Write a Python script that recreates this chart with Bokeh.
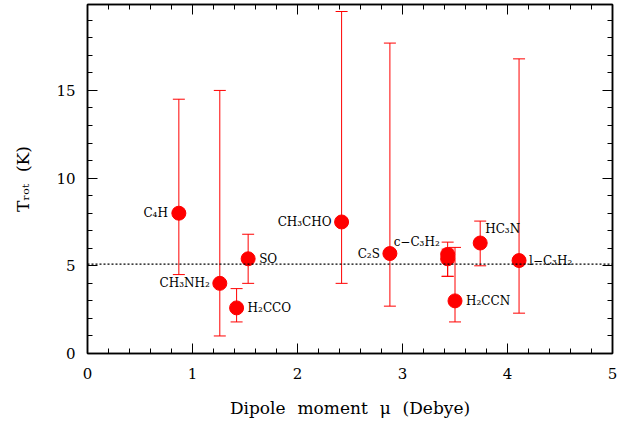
from bokeh.plotting import figure
from bokeh.models import (ColumnDataSource, Whisker, TeeHead, Span, LinearAxis,
                          FixedTicker, Range1d)
from bokeh.core.properties import value
from bokeh.embed import file_html
from bokeh.resources import INLINE

# Rotational temperature versus dipole moment
molecule = ["C₄H", "CH₃NH₂", "SO", "H₂CCO", "CH₃CHO", "C₂S",
            "c−C₃H₂", "", "H₂CCN", "HC₃N", "l−C₃H₂"]
dipole = [0.87, 1.26, 1.53, 1.42, 2.42, 2.88, 3.43, 3.43, 3.50, 3.74, 4.11]
trot = [8.0, 4.0, 5.4, 2.6, 7.5, 5.7, 5.65, 5.4, 3.0, 6.3, 5.3]
trot_lo = [4.5, 1.0, 4.0, 1.8, 4.0, 2.7, 4.4, 4.4, 1.8, 5.0, 2.3]
trot_hi = [14.5, 15.0, 6.8, 3.7, 19.5, 17.7, 6.35, 5.95, 6.05, 7.55, 16.8]
mean_trot = 5.1

x_ticks = [0, 1, 2, 3, 4, 5]
y_ticks = [0, 5, 10, 15]

# label placement (screen pixel offsets from each point)
label_align = ["right", "right", "left", "left", "right", "right",
               "left", "left", "left", "left", "left"]
label_dx = [-11, -10, 11, 11, -10, -10, -54, 0, 11, 5, 10]
label_dy = [0, 0, 0, 0, 0, 0, -12, 0, 0, -14, 0]

FONT = "DejaVu Serif"
RED = "#ff0000"
GAP = "\u2002\u2009"

src = ColumnDataSource(dict(x=dipole, y=trot, lo=trot_lo, hi=trot_hi,
                            name=molecule, align=label_align,
                            dx=label_dx, dy=label_dy))

p = figure(width=642, height=426, output_backend="svg", toolbar_location=None,
           x_range=Range1d(0, 5), y_range=Range1d(0, 19.9),
           min_border_left=87, min_border_right=30, min_border_top=4,
           min_border_bottom=73)
p.background_fill_color = "white"
p.border_fill_color = "white"
p.outline_line_color = "black"
p.outline_line_width = 1.5
p.xgrid.visible = False
p.ygrid.visible = False

p.add_layout(Span(location=mean_trot, dimension="width", line_color="black",
                  line_width=1.2, line_dash="2 2"))

head_kw = dict(size=12, line_color=RED, line_width=1)
p.add_layout(Whisker(source=src, base="x", lower="lo", upper="hi",
                     dimension="height", line_color=RED, line_width=1,
                     lower_head=TeeHead(**head_kw), upper_head=TeeHead(**head_kw)))

p.scatter("x", "y", source=src, size=14, fill_color=RED, line_color=RED)

p.text("x", "y", text="name", source=src, x_offset="dx", y_offset="dy",
       text_align="align", text_baseline="middle",
       text_font=value(FONT), text_font_size="12px", text_color="black")


def style_axis(ax, ticks, minor, labels=True):
    ax.ticker = FixedTicker(ticks=ticks, minor_ticks=minor)
    ax.axis_line_color = "black"
    ax.axis_line_width = 1.5
    ax.major_tick_line_color = "black"
    ax.minor_tick_line_color = "black"
    ax.major_tick_in = 10
    ax.major_tick_out = 0
    ax.minor_tick_in = 5
    ax.minor_tick_out = 0
    ax.major_tick_line_width = 1
    ax.minor_tick_line_width = 1
    if labels:
        ax.major_label_text_font = FONT
        ax.major_label_text_font_size = "15px"
        ax.major_label_text_color = "black"
        ax.major_label_standoff = 14
        ax.axis_label_text_font = FONT
        ax.axis_label_text_font_size = "17px"
        ax.axis_label_text_font_style = "normal"
        ax.axis_label_text_color = "black"
        ax.axis_label_standoff = 16
    else:
        # mirrored tick marks only
        ax.major_label_text_color = None
        ax.major_label_text_font_size = "1px"
        ax.major_label_standoff = 0
        ax.axis_label = None


x_minor = [round(i * 0.2, 1) for i in range(26)]
y_minor = list(range(20))

style_axis(p.xaxis[0], x_ticks, x_minor)
style_axis(p.yaxis[0], y_ticks, y_minor)
p.xaxis[0].axis_label = f"Dipole{GAP}moment{GAP}μ{GAP}(Debye)"
p.yaxis[0].axis_label = f"Tᵣₒₜ{GAP}(K)"
p.yaxis[0].major_label_standoff = 12
p.yaxis[0].axis_label_standoff = 20

top = LinearAxis()
right = LinearAxis()
style_axis(top, x_ticks, x_minor, labels=False)
style_axis(right, y_ticks, y_minor, labels=False)
p.add_layout(top, "above")
p.add_layout(right, "right")

open("out.html", "w").write(file_html(p, INLINE))
